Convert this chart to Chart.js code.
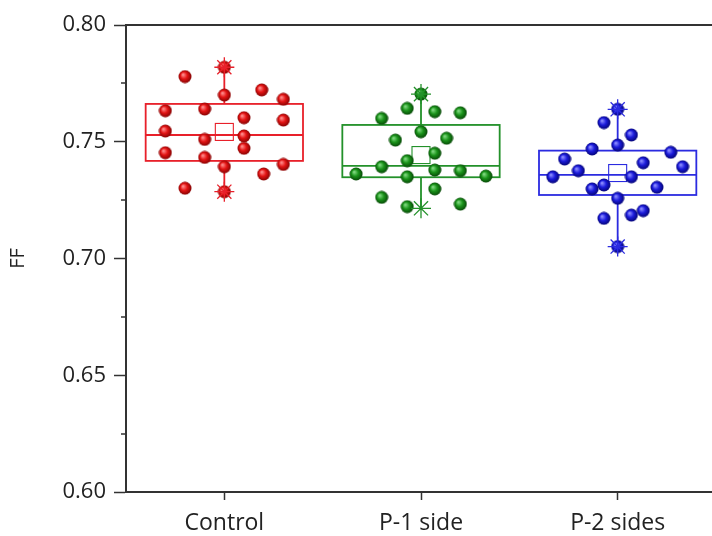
<!DOCTYPE html>
<html>
<head>
<meta charset="utf-8">
<script src="https://cdn.jsdelivr.net/npm/chart.js@4"></script>
<style>
  html, body { margin: 0; padding: 0; background: #fff; overflow: hidden; }
  #wrap { width: 724px; height: 536px; }
</style>
</head>
<body>
<div id="wrap"><canvas id="chart" width="724" height="536"></canvas></div>
<script>
// categories and values
const categories = ['Control', 'P-1 side', 'P-2 sides'];

const controlFF = [0.7779, 0.7819, 0.7700, 0.7722, 0.7682, 0.7633, 0.7640, 0.7603, 0.7593, 0.7546,
                   0.7510, 0.7525, 0.7472, 0.7453, 0.7433, 0.7393, 0.7362, 0.7403, 0.7301, 0.7286];
const controlJitter = [-0.20, 0, 0, 0.19, 0.30, -0.30, -0.10, 0.10, 0.30, -0.30,
                       -0.10, 0.10, 0.10, -0.30, -0.10, 0, 0.20, 0.30, -0.20, 0];

const oneSideFF = [0.7704, 0.7643, 0.7629, 0.7624, 0.7600, 0.7543, 0.7507, 0.7515, 0.7451, 0.7419,
                   0.7393, 0.7362, 0.7350, 0.7379, 0.7376, 0.7353, 0.7298, 0.7262, 0.7222, 0.7233];
const oneSideJitter = [0, -0.07, 0.07, 0.20, -0.20, 0, -0.13, 0.13, 0.07, -0.07,
                       -0.20, -0.33, -0.07, 0.07, 0.20, 0.33, 0.07, -0.20, -0.07, 0.20];

const twoSidesFF = [0.7639, 0.7582, 0.7529, 0.7469, 0.7486, 0.7455, 0.7426, 0.7410, 0.7393, 0.7376,
                    0.7350, 0.7350, 0.7315, 0.7298, 0.7305, 0.7258, 0.7186, 0.7205, 0.7172, 0.7051];
const twoSidesJitter = [0, -0.07, 0.07, -0.13, 0, 0.27, -0.27, 0.13, 0.33, -0.20,
                        -0.33, 0.07, -0.07, -0.13, 0.20, 0, 0.07, 0.13, -0.07, 0];

// box statistics per category
const boxQ1 = [0.7418, 0.7348, 0.7272];
const boxMedian = [0.7529, 0.7397, 0.7358];
const boxQ3 = [0.7662, 0.7572, 0.7462];
const boxMean = [0.7542, 0.7443, 0.7366];
const boxMin = [0.7286, 0.7215, 0.7051];
const boxMax = [0.7819, 0.7704, 0.7639];

const yTicks = [0.60, 0.65, 0.70, 0.75, 0.80];
const yMinorTicks = [0.625, 0.675, 0.725, 0.775];

const lineColors = ['#e8202a', '#23912a', '#2b2be0'];
const ballColors = [
  ['#ff8c8c', '#e41414', '#7a0000'],
  ['#80d880', '#1a941a', '#043f04'],
  ['#8c8cff', '#1c1cdc', '#00006a']
];

// shaded ball used as point style
function makeBall(c) {
  const cv = document.createElement('canvas');
  cv.width = 14; cv.height = 14;
  const g = cv.getContext('2d');
  const grad = g.createRadialGradient(5, 5, 0.5, 7, 7, 7);
  grad.addColorStop(0, c[0]);
  grad.addColorStop(0.45, c[1]);
  grad.addColorStop(1, c[2]);
  g.fillStyle = grad;
  g.beginPath();
  g.arc(7, 7, 6.5, 0, Math.PI * 2);
  g.fill();
  return cv;
}

function points(values, jitter, i) {
  return values.map((v, j) => ({ x: i + 1 + jitter[j], y: v }));
}

const seriesValues = [controlFF, oneSideFF, twoSidesFF];
const seriesJitter = [controlJitter, oneSideJitter, twoSidesJitter];

const datasets = categories.map((name, i) => ({
  label: name,
  data: points(seriesValues[i], seriesJitter[i], i),
  pointStyle: makeBall(ballColors[i]),
  pointRadius: 7,
  showLine: false
}));

const boxWidth = 0.4;

const boxPlugin = {
  id: 'boxes',
  beforeDatasetsDraw(chart) {
    const { ctx, scales: { x, y } } = chart;
    ctx.save();
    categories.forEach((c, i) => {
      const cx = x.getPixelForValue(i + 1);
      const l = x.getPixelForValue(i + 1 - boxWidth);
      const r = x.getPixelForValue(i + 1 + boxWidth);
      const top = y.getPixelForValue(boxQ3[i]);
      const bot = y.getPixelForValue(boxQ1[i]);
      const med = y.getPixelForValue(boxMedian[i]);
      ctx.strokeStyle = lineColors[i];
      ctx.lineWidth = 1.8;
      ctx.strokeRect(l, top, r - l, bot - top);
      ctx.beginPath();
      ctx.moveTo(l, med); ctx.lineTo(r, med);
      ctx.moveTo(cx, top); ctx.lineTo(cx, y.getPixelForValue(boxMax[i]));
      ctx.moveTo(cx, bot); ctx.lineTo(cx, y.getPixelForValue(boxMin[i]));
      ctx.stroke();
      const m = y.getPixelForValue(boxMean[i]);
      ctx.lineWidth = 1.1;
      ctx.strokeRect(cx - 9, m - 8.5, 18, 17);
    });
    ctx.restore();
  },
  afterDatasetsDraw(chart) {
    const { ctx, scales: { x, y }, chartArea } = chart;
    ctx.save();
    // min / max stars
    categories.forEach((c, i) => {
      const cx = x.getPixelForValue(i + 1);
      [boxMin[i], boxMax[i]].forEach(v => {
        const py = y.getPixelForValue(v);
        ctx.strokeStyle = lineColors[i];
        ctx.lineWidth = 1.3;
        ctx.beginPath();
        for (let k = 0; k < 4; k++) {
          const a = k * Math.PI / 4;
          ctx.moveTo(cx - 10 * Math.cos(a), py - 10 * Math.sin(a));
          ctx.lineTo(cx + 10 * Math.cos(a), py + 10 * Math.sin(a));
        }
        ctx.stroke();
      });
    });
    // frame top / right and minor ticks
    ctx.strokeStyle = '#333';
    ctx.lineWidth = 2;
    ctx.beginPath();
    ctx.moveTo(chartArea.left, chartArea.top);
    ctx.lineTo(chartArea.right, chartArea.top);
    ctx.lineTo(chartArea.right, chartArea.bottom);
    ctx.stroke();
    ctx.lineWidth = 1.5;
    ctx.beginPath();
    yMinorTicks.forEach(v => {
      const py = Math.round(y.getPixelForValue(v));
      ctx.moveTo(chartArea.left - 5, py);
      ctx.lineTo(chartArea.left, py);
    });
    ctx.stroke();
    ctx.restore();
  }
};

const config = {
  type: 'scatter',
  data: { datasets: datasets },
  options: {
    responsive: false,
    animation: false,
    devicePixelRatio: 1,
    layout: { padding: { top: 25, right: 8, left: 0, bottom: 0 } },
    plugins: { legend: { display: false }, tooltip: { enabled: false } },
    scales: {
      x: {
        type: 'linear',
        min: 0.5,
        max: 3.5,
        afterBuildTicks: s => { s.ticks = categories.map((c, i) => ({ value: i + 1 })); },
        afterFit: s => { s.height = 44; },
        border: { display: true, color: '#333', width: 2 },
        grid: { drawOnChartArea: false, drawTicks: true, tickLength: 8, tickColor: '#333', tickWidth: 1.5 },
        ticks: {
          callback: v => categories[Math.round(v) - 1],
          color: '#222',
          font: { family: 'Open Sans', size: 23 },
          padding: 10,
          maxRotation: 0,
          autoSkip: false
        }
      },
      y: {
        min: 0.6,
        max: 0.8,
        afterBuildTicks: s => { s.ticks = yTicks.map(v => ({ value: v })); },
        afterFit: s => { s.width = 126; },
        border: { display: true, color: '#333', width: 2 },
        grid: { drawOnChartArea: false, drawTicks: true, tickLength: 12, tickColor: '#333', tickWidth: 1.5 },
        ticks: {
          callback: v => v.toFixed(2),
          color: '#222',
          font: { family: 'Open Sans', size: 22 },
          padding: 8
        },
        title: {
          display: true,
          text: 'FF',
          color: '#222',
          font: { family: 'Open Sans', size: 20 },
          padding: { top: 6, bottom: 0 }
        }
      }
    }
  },
  plugins: [boxPlugin]
};

const chartElement = document.getElementById('chart');
const myChart = new Chart(chartElement, config);
</script>
</body>
</html>
